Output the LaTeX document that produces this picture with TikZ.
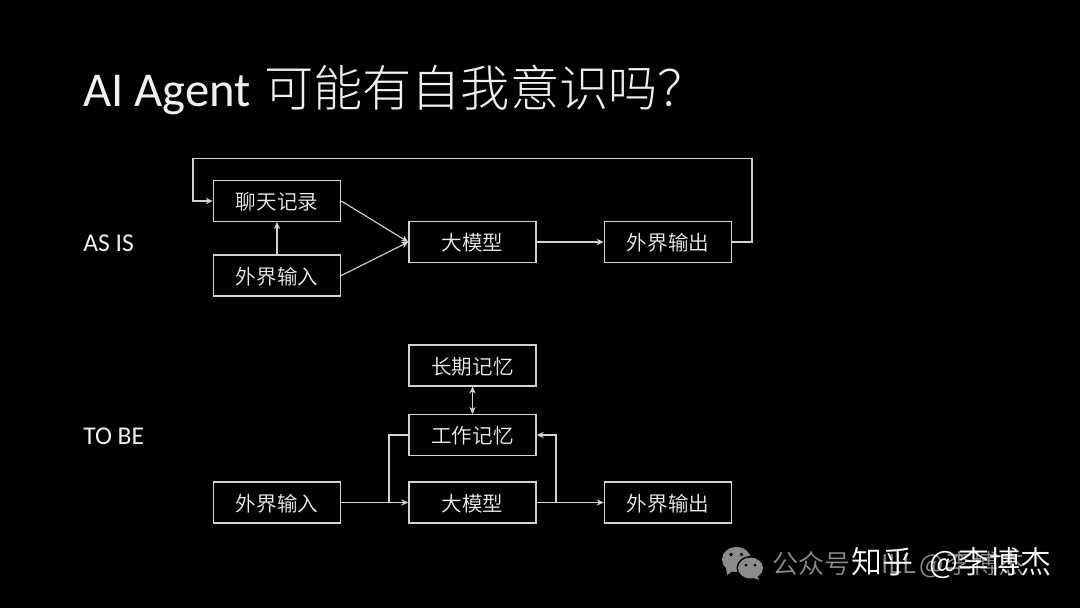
\documentclass[tikz,border=0pt]{standalone}
\usepackage{fontspec}
\setmainfont{Carlito}
\newfontfamily\cjk[UprightFont={* Light}]{Noto Sans CJK SC}
\newfontfamily\cjkbody[UprightFont={* DemiLight}]{Noto Sans CJK SC}
\usetikzlibrary{arrows.meta}
\definecolor{linegray}{HTML}{D2D2D2}
\definecolor{textwhite}{HTML}{F0F0F0}
\definecolor{markgray}{HTML}{8C8C8C}
\begin{document}
\begin{tikzpicture}[x=0.025cm, y=-0.025cm,
    box/.style={draw=linegray, line width=0.9pt, minimum width=3.18cm, minimum height=1.02cm, inner sep=0pt, text height=12.4pt, text depth=0pt, text=textwhite, font=\cjkbody\fontsize{14.6}{16}\selectfont},
    side/.style={anchor=west, inner sep=0pt, text=textwhite, font=\fontsize{18.2}{20}\selectfont},
    wire/.style={draw=linegray, line width=0.8pt},
    tip/.style={wire, -{Stealth[length=5pt, width=4.5pt]}},
    tips/.style={wire, {Stealth[length=5pt, width=4.5pt]}-{Stealth[length=5pt, width=4.5pt]}}]
  \fill[black] (0, 0) rectangle (1080, 608);
  \useasboundingbox (0, 0) rectangle (1080, 608);

  \node[anchor=west, inner sep=0pt, text=textwhite, font=\fontsize{34.6}{40}\selectfont] (title) at (83, 90) {AI Agent\hspace{0.27em}{\cjk\fontsize{35}{40}\selectfont 可能有自我意识吗？}};
  \node[side] (asis) at (83, 243) {AS IS};
  \node[side] (tobe) at (83, 436) {TO BE};

  % As is
  \node[box] (chat) at (277, 201) {聊天记录};
  \node[box] (input) at (277, 275.5) {外界输入};
  \node[box] (model) at (472.5, 242) {大模型};
  \node[box] (output) at (668, 242) {外界输出};
  \coordinate (loopr) at (752, 158.5);
  \coordinate (loopl) at (193, 158.5);

  \draw[tip] (input) -- (chat);
  \draw[tip] (chat.east) -- (model.west);
  \draw[tip] (input.east) -- (model.west);
  \draw[tip] (model) -- (output);
  \draw[tip] (output.east) -| (loopr) -- (loopl) |- (chat.west);

  % To be
  \node[box] (longmem) at (472.5, 365.5) {长期记忆};
  \node[box] (workmem) at (472.5, 435) {工作记忆};
  \node[box] (model2) at (472.5, 502.5) {大模型};
  \node[box] (input2) at (277, 502.5) {外界输入};
  \node[box] (output2) at (668, 502.5) {外界输出};
  \coordinate (joinl) at (389, 502.5);
  \coordinate (joinr) at (556, 502.5);

  \draw[tips] (longmem) -- (workmem);
  \draw[tip] (input2) -- (model2);
  \draw[tip] (model2) -- (output2);
  \draw[wire] (workmem.west) -| (joinl);
  \draw[tip] (joinr) |- (workmem.east);

  % Watermark
  \fill[markgray] (736.5, 559.5) ellipse (14.5 and 12.5);
  \fill[markgray] (726, 568) -- (727, 575) -- (734, 570) -- cycle;
  \fill[black] (750.5, 568) ellipse (14 and 12);
  \fill[markgray] (750.5, 568) ellipse (12.5 and 10.5);
  \fill[markgray] (757, 575) -- (759, 580) -- (751, 577) -- cycle;
  \fill[black] (731, 554.5) circle (1.8);
  \fill[black] (741.5, 554.5) circle (1.8);
  \fill[black] (746, 565) circle (1.5);
  \fill[black] (755, 565) circle (1.5);
  \node[anchor=west, inner sep=0pt, text=markgray, font=\cjkbody\fontsize{18.5}{20}\selectfont] (mark) at (772, 565) {公众号\hspace{1.2em}ILL\hspace{0.1em}@\hspace{0.1em}李博杰};
  \node[anchor=west, inner sep=0pt, text=white, font=\cjkbody\fontsize{22}{24}\selectfont] (zhihu) at (851, 563) {知乎\hspace{0.52em}@\hspace{0.02em}李博杰};
\end{tikzpicture}
\end{document}
